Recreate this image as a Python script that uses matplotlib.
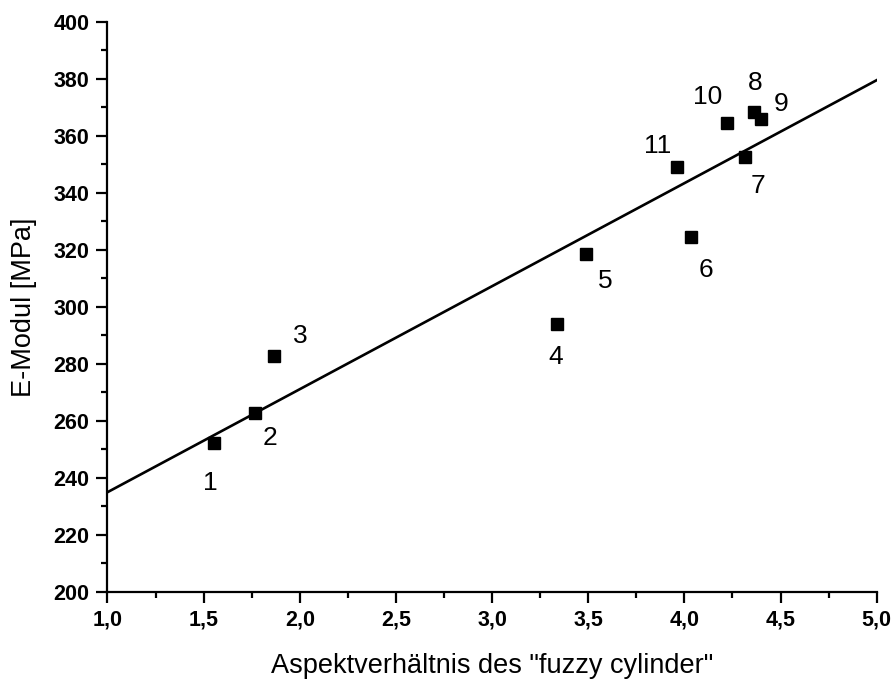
import numpy as np
import matplotlib
matplotlib.use('Agg')
import matplotlib.pyplot as plt
from matplotlib.ticker import MultipleLocator, FuncFormatter

plt.rcParams['font.family'] = ['Liberation Sans', 'DejaVu Sans']

aspekt = [1.554, 1.767, 1.866, 3.337, 3.488, 4.033, 4.315, 4.362, 4.397, 4.220, 3.960]
emodul = [252.2, 262.9, 282.7, 294.0, 318.5, 324.6, 352.5, 368.5, 365.8, 364.4, 349.2]
nummer = ['1', '2', '3', '4', '5', '6', '7', '8', '9', '10', '11']

# Versatz der Beschriftungen in Pixeln
offsets = [(-4, -40), (15, -25), (26, 20), (-1, -33), (19, -27), (15, -33),
           (13, -29), (1, 29), (20, 15), (-19, 26), (-19, 21)]

fig = plt.figure(figsize=(8.95, 6.79), dpi=100)
ax = fig.add_axes([107.5 / 895, 1 - 591.7 / 679, (876.7 - 107.5) / 895, (591.7 - 22) / 679])

ax.plot(aspekt, emodul, 's', color='black', markersize=8.5, zorder=3)

# Regressionsgerade
slope, intercept = np.polyfit(aspekt, emodul, 1)
xl = np.array([1.0, 5.0])
ax.plot(xl, intercept + slope * xl, color='black', linewidth=1.9)

for xi, yi, n, off in zip(aspekt, emodul, nummer, offsets):
    ax.annotate(n, (xi, yi), xytext=off, textcoords='offset pixels',
                ha='center', va='center', fontsize=19)

ax.set_xlim(1.0, 5.0)
ax.set_ylim(200, 400)
ax.xaxis.set_major_locator(MultipleLocator(0.5))
ax.xaxis.set_minor_locator(MultipleLocator(0.25))
ax.yaxis.set_major_locator(MultipleLocator(20))
ax.yaxis.set_minor_locator(MultipleLocator(10))
ax.xaxis.set_major_formatter(FuncFormatter(lambda v, p: f'{v:.1f}'.replace('.', ',')))
ax.yaxis.set_major_formatter(FuncFormatter(lambda v, p: f'{v:.0f}'))

for s in ['top', 'right']:
    ax.spines[s].set_visible(False)
for s in ['left', 'bottom']:
    ax.spines[s].set_linewidth(1.6)

ax.tick_params(which='major', direction='out', length=8, width=1.6, labelsize=15.5, pad=5)
ax.tick_params(which='minor', direction='out', length=4.5, width=1.6)
for lab in ax.get_xticklabels() + ax.get_yticklabels():
    lab.set_fontweight('bold')

ax.set_xlabel('Aspektverhältnis des "fuzzy cylinder"', fontsize=19.5, labelpad=16)
ax.set_ylabel('E-Modul [MPa]', fontsize=19.5, labelpad=12)

fig.savefig('out.png', dpi=100)
